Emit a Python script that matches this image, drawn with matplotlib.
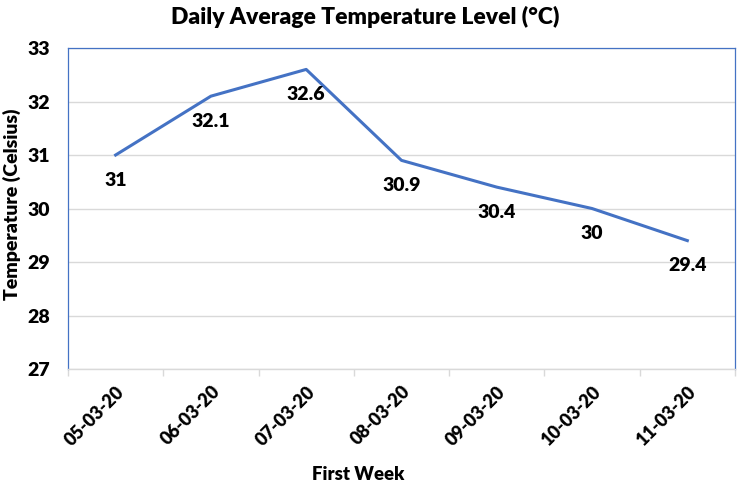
import matplotlib
matplotlib.use("Agg")
import matplotlib.pyplot as plt

dates = ["05-03-20", "06-03-20", "07-03-20", "08-03-20", "09-03-20", "10-03-20", "11-03-20"]
temps = [31, 32.1, 32.6, 30.9, 30.4, 30, 29.4]
value_labels = ["31", "32.1", "32.6", "30.9", "30.4", "30", "29.4"]
y_ticks = [27, 28, 29, 30, 31, 32, 33]

plt.rcParams["font.family"] = ["Lato", "DejaVu Sans"]
W = "heavy"

BLUE = "#4472C4"
GRID = "#D9D9D9"

fig = plt.figure(figsize=(7.38, 4.86), dpi=100)
ax = fig.add_axes([0.0921, 0.2407, 0.9038, 0.6605])

x = list(range(len(dates)))
ax.plot(x, temps, color=BLUE, lw=2.2, solid_joinstyle="round")
for xi, yi, lab in zip(x, temps, value_labels):
    ax.annotate(lab, (xi, yi), xytext=(0, -18), textcoords="offset points",
                ha="center", va="center", fontsize=14, fontweight=W)

ax.set_xlim(-0.5, len(dates) - 0.5)
ax.set_ylim(27, 33)
ax.set_yticks(y_ticks)
ax.set_yticklabels([str(t) for t in y_ticks], fontsize=14, fontweight=W)
ax.tick_params(axis="y", length=0, pad=13)

# category labels at centers, tick marks at boundaries
ax.set_xticks(x)
ax.set_xticklabels(dates, rotation=45, ha="right", rotation_mode="anchor",
                   fontsize=13, fontweight=W)
ax.set_xticks([i - 0.5 for i in range(len(dates) + 1)], minor=True)
ax.tick_params(axis="x", which="major", length=0, pad=10)
ax.tick_params(axis="x", which="minor", length=5, color=GRID, width=1)

ax.grid(axis="y", color=GRID, lw=1)
ax.set_axisbelow(True)
for side in ("left", "top", "right"):
    ax.spines[side].set_color(BLUE)
    ax.spines[side].set_linewidth(0.9)
ax.spines["bottom"].set_color(GRID)
ax.spines["bottom"].set_linewidth(1)

fig.text(358 / 738, 1 - 474 / 486, "First Week", ha="center", va="center",
         fontsize=13.3, fontweight=W)
fig.text(12 / 738, 1 - 204 / 486, "Temperature (Celsius)", ha="center", va="center",
         rotation=90, fontsize=14, fontweight=W)
fig.text(365 / 738, 1 - 17 / 486, "Daily Average Temperature Level (°C)", ha="center",
         va="center", fontsize=16.5, fontweight=W)

fig.savefig("out.png", dpi=100)
